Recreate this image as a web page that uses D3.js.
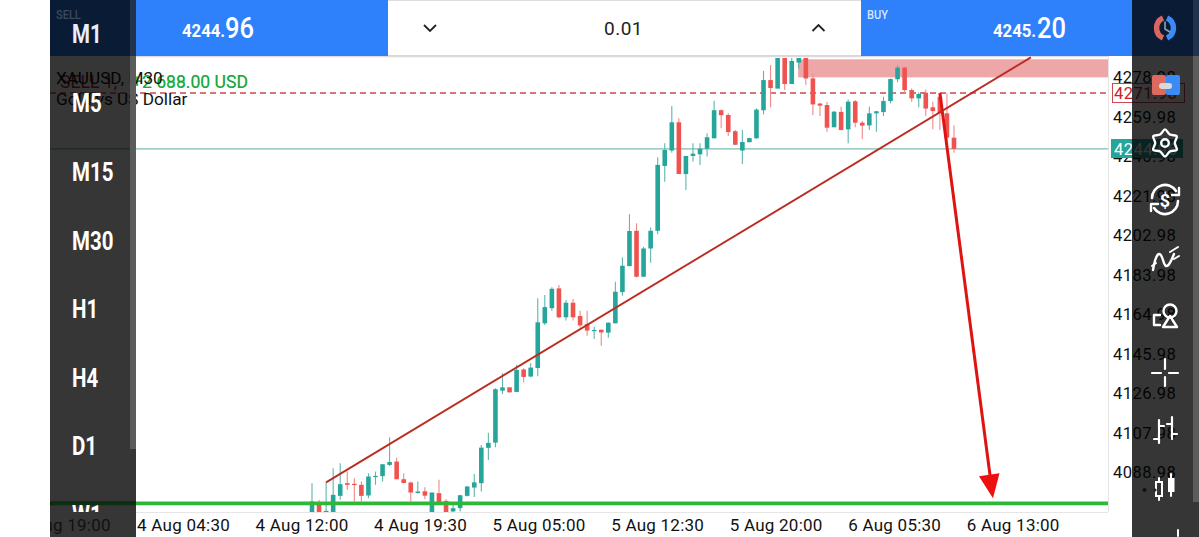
<!DOCTYPE html>
<html><head><meta charset="utf-8">
<script src="https://cdn.jsdelivr.net/npm/d3@7"></script>
<style>html,body{margin:0;padding:0;background:#fff;overflow:hidden}svg{display:block}text{font-family:Roboto,sans-serif}</style>
</head><body><svg id="c" width="1199" height="537"></svg>
<script>
const opens=[4066,4074.3,4070,4064,4077.5,4083.6,4083.3,4082.8,4077.7,4086.6,4087,4092.4,4094,4085.5,4083.9,4078.9,4079.7,4066,4078.8,4075.1,4070,4071.6,4077.5,4081.5,4083.6,4100.6,4103.1,4128.1,4129.7,4127.5,4138.3,4134.9,4139,
4160.5,4167.8,4177.3,4163.4,4170.4,4164,4160.1,4157,4157.4,4156,4160.5,4175.5,4188,4205,4182.9,4196.5,4205,
4236.2,4243.6,4257.2,4232.3,4241,4241.8,4244.5,4249.5,4263,4260.7,4252.9,4243.6,4247.6,4249.5,4263,4277.5,4273.4,4290,4275.6,4285.9,4288.8,4278.3,4266.2,4265.5,4254.8,4262.2,4253.8,4267.3,4257,4255.7,4261.5,4262.1,4267.4,4277.9,4283.5,4272.7,4268.7,4271.4,4264.4,4269.5,4261.5,4249.8];
const highs=[4083.6,4075.6,4083.9,4090.8,4093.2,4089.2,4086,4084.4,4088.4,4089.2,4092.9,4105.7,4095.9,4088.4,4084.4,4084.4,4081.7,4079.1,4085.2,4075.9,4073.2,4078,4082.3,4088,4102,4107.9,4129.3,4136.5,4129.7,4140.5,4138.9,4141.3,4172.5,
4174.1,4177.8,4178.9,4171.7,4172.2,4166.6,4166.6,4158.9,4157.6,4160.9,4180.5,4192.2,4213,4208.6,4197.3,4206.6,4240.4,
4247.1,4265,4259.1,4241,4247.1,4247.1,4251.9,4267.6,4263.4,4261.5,4253.5,4253.5,4249.8,4263.9,4281.9,4284.8,4292,4292,4292,4292,4292,4280.7,4266.6,4267.1,4262.6,4264.7,4268.2,4267.9,4257.8,4264.7,4262.6,4269.5,4278.3,4284.8,4284,4273.5,4271.5,4273,4267.1,4271.1,4271.1,4255.6];
const lows=[4060,4060,4069.9,4062,4075.6,4080.4,4074.8,4074.8,4076.4,4082.8,4084.4,4091.9,4085.5,4083.6,4074.8,4078.5,4075.9,4064,4074,4064,4069,4070,4077.2,4076.9,4079.6,4094.8,4100.9,4126.5,4127.2,4127.5,4132,4134.6,4135,
4159.7,4166.6,4162.9,4161.8,4161.8,4158.5,4154.5,4152.9,4149.7,4153.6,4160.5,4173.8,4188,4182.6,4182.9,4189.6,4203.3,
4228.6,4242.6,4232.3,4224.6,4238.3,4236.7,4240.7,4249.5,4254.3,4250.6,4246.2,4237.1,4247.6,4249.2,4261,4264.4,4273.4,4272.7,4275.6,4283,4275.1,4260.7,4260.2,4252.7,4254.8,4253.2,4247.1,4254.8,4249,4253.5,4252.7,4260.2,4266.3,4276.4,4271.1,4267.1,4264.4,4260.2,4253.8,4253.5,4245.5,4242.6];
const closes=[4074.8,4062,4070.3,4078,4083.1,4082.8,4083,4077.5,4086.8,4087.1,4092.7,4093.8,4085.5,4083.7,4079.1,4079.6,4077.6,4079.1,4074.3,4066,4071.6,4077.8,4082,4084,4100.7,4103,4128.8,4129.7,4127.3,4138.1,4134.7,4139.2,4161,
4168.3,4177.1,4163.4,4170.4,4163.4,4159.5,4157,4157.3,4156.1,4160.8,4175.7,4188.2,4204.9,4182.9,4196.5,4205,4236.7,
4243.9,4257.2,4232.3,4241,4242.1,4244.5,4250,4263,4260.6,4252.5,4246.4,4247.7,4249.6,4263.3,4277.5,4273.7,4290,4275.6,4286.7,4288.8,4278.3,4265.8,4265.2,4254.6,4262.3,4253.5,4267.1,4257,4255.6,4261.5,4262.5,4267.4,4278,4283.5,4272.7,4268.7,4270.8,4263.8,4262.6,4261.5,4249.8,4244.4];

const priceTicks=[4278.98,4259.98,4240.98,4221.98,4202.98,4183.98,4164.98,4145.98,4126.98,4107.98,4088.98];
const timeLabels=["4 Aug 19:00","4 Aug 04:30","4 Aug 12:00","4 Aug 19:30","5 Aug 05:00","5 Aug 12:30","5 Aug 20:00","6 Aug 05:30","6 Aug 13:00"];
const timeBars=[-41.7,-24.8,-8,8.8,25.6,42.4,59.2,76,92.8];
const timeframes=["M1","M5","M15","M30","H1","H4","D1","W1"];
const bidLevel=4244.4, entryLevel=4271.3, targetLevel=4073.9;
const zoneTop=4287.5, zoneBottom=4278.8, zoneStartBar=68.9;
const trendBars=[2,101.9], trendPrices=[4084,4288.4];
const arrowBars=[89,96.2], arrowPrices=[4271.3,4085];

const svg=d3.select("#c");
const y=d3.scaleLinear().domain([4278.98,4088.98]).range([77,472]);
const x=d3.scaleLinear().domain([0,91]).range([312,954]);
const defs=svg.append("defs");
defs.append("clipPath").attr("id","plot").append("rect").attr("x",50).attr("y",58).attr("width",1058).attr("height",454);
defs.append("clipPath").attr("id","page").append("rect").attr("x",50).attr("y",0).attr("width",1149).attr("height",537);

const teal="#26a69a", red="#ef5350";
svg.append("line").attr("x1",136).attr("x2",1108).attr("y1",56.5).attr("y2",56.5).attr("stroke","#dcdcdc").attr("stroke-width",1.5);
svg.append("line").attr("x1",1108.5).attr("x2",1108.5).attr("y1",56).attr("y2",512).attr("stroke","#e6e6e6");
svg.append("line").attr("x1",50).attr("x2",1108).attr("y1",512.5).attr("y2",512.5).attr("stroke","#e6e6e6");

const plot=svg.append("g").attr("clip-path","url(#plot)");
plot.append("rect").attr("x",x(zoneStartBar)).attr("width",1108-x(zoneStartBar)).attr("y",y(zoneTop)).attr("height",y(zoneBottom)-y(zoneTop)).attr("fill","#eea7a9");
plot.append("line").attr("x1",50).attr("x2",1108).attr("y1",y(bidLevel)).attr("y2",y(bidLevel)).attr("stroke","#7dbcb2").attr("stroke-width",1.2);
plot.append("line").attr("x1",50).attr("x2",1108).attr("y1",y(entryLevel)).attr("y2",y(entryLevel)).attr("stroke","#d04550").attr("stroke-width",1.4).attr("stroke-dasharray","6 4");

const bars=plot.append("g").selectAll("g").data(opens).join("g");
bars.append("line").attr("x1",(d,i)=>x(i)).attr("x2",(d,i)=>x(i)).attr("y1",(d,i)=>y(highs[i])).attr("y2",(d,i)=>y(lows[i]))
  .attr("stroke",(d,i)=>closes[i]>=d?"#5fb5ad":"#ee8a88").attr("stroke-width",1.1);
bars.append("rect").attr("x",(d,i)=>x(i)-2.3).attr("width",4.6)
  .attr("y",(d,i)=>y(Math.max(d,closes[i]))).attr("height",(d,i)=>Math.max(1.2,Math.abs(y(d)-y(closes[i]))))
  .attr("fill",(d,i)=>closes[i]>=d?teal:red);

const line=d3.line().x(d=>x(d[0])).y(d=>y(d[1]));
svg.append("path").attr("d",line(d3.zip(trendBars,trendPrices))).attr("fill","none").attr("stroke","#bb2c22").attr("stroke-width",1.9);
plot.append("path").attr("d",line(d3.zip(arrowBars,arrowPrices))).attr("fill","none").attr("stroke","#e01313").attr("stroke-width",3);
const tipX=x(arrowBars[1])+1.3,tipY=y(arrowPrices[1])+18;
plot.append("path").attr("d",`M${tipX-13},${tipY-22} L${tipX+7.5},${tipY-25} L${tipX+1},${tipY} Z`).attr("fill","#ee0f0f");
plot.append("line").attr("x1",50).attr("x2",1108).attr("y1",y(targetLevel)).attr("y2",y(targetLevel)).attr("stroke","#2fb838").attr("stroke-width",3.6);

const t=(sel,s,px,py,size,fill)=>sel.append("text").attr("x",px).attr("y",py).attr("font-size",size).attr("fill",fill).text(s);
t(svg,"SELL 1,",60,88,17.6,"#a82c3c");
t(svg,"+2 688.00 USD",248,88,17.6,"#18a83c").attr("text-anchor","end");
t(svg,"+2 699.00 USD",248,88,17.6,"#18a83c").attr("text-anchor","end").attr("opacity",.55);
t(svg,"XAUUSD, M30",56,84,17.2,"#111");
t(svg,"Gold vs US Dollar",56,105,17.2,"#111");

const axisG=svg.append("g");
priceTicks.forEach(p=>t(axisG,p.toFixed(2),1113,y(p)+6,16.6,"#111").attr("letter-spacing",0.4));
axisG.append("rect").attr("x",1112.5).attr("y",83.5).attr("width",72).attr("height",19).attr("fill","#fff").attr("stroke","#c64a50");
t(axisG,"4271.98",1114,99,16.6,"#c8202c").attr("letter-spacing",0.4);
axisG.append("rect").attr("x",1111).attr("y",139).attr("width",72).attr("height",19).attr("fill","#26a69a");
t(axisG,"4244.96",1114,155,16.6,"#fff").attr("letter-spacing",0.4);

const timeG=svg.append("g").attr("clip-path","url(#page)");
timeLabels.slice(1).forEach((s,i)=>t(timeG,s,x(timeBars[i+1]),531,17,"#111").attr("letter-spacing",0.25));

svg.append("rect").attr("x",136).attr("y",0).attr("width",252).attr("height",56).attr("fill","#2f80fb");
svg.append("rect").attr("x",861).attr("y",0).attr("width",271).attr("height",56).attr("fill","#2f80fb");
svg.append("rect").attr("x",388).attr("y",0).attr("width",473).attr("height",1).attr("fill","#ddd");
svg.append("rect").attr("x",388).attr("y",55).attr("width",473).attr("height",1.5).attr("fill","#d8d8d8");
const cond=(s,px,py,size,fill,sx,w)=>svg.append("text").attr("transform",`translate(${px},${py}) scale(${sx},1)`).attr("font-size",size).attr("fill",fill).attr("font-weight",w||400).text(s);
cond("4244.",182,37,19,"#fff",.88,700);
cond("96",225,38,29,"#fff",.88,500);
cond("4245.",993,37,19,"#fff",.88,700);
cond("20",1037,38,29,"#fff",.88,500);
cond("BUY",867,19,13,"#d5e6ff",.85,500);
svg.append("text").attr("x",623.5).attr("y",35).attr("text-anchor","middle").attr("font-size",19).attr("fill","#222").attr("letter-spacing",.5).text("0.01");
svg.append("path").attr("d","M424,25 L430,31 L436,25").attr("fill","none").attr("stroke","#222").attr("stroke-width",1.8);
svg.append("path").attr("d","M812.5,31 L818.5,25 L824.5,31").attr("fill","none").attr("stroke","#222").attr("stroke-width",1.8);

svg.append("rect").attr("x",50).attr("y",56).attr("width",86).attr("height",481).attr("fill","#000").attr("opacity",.79);
svg.append("rect").attr("x",50).attr("y",0).attr("width",86).attr("height",56).attr("fill","#0a1b36");
svg.append("rect").attr("x",130).attr("y",0).attr("width",6).attr("height",56).attr("fill","#22324f");
svg.append("rect").attr("x",130).attr("y",56).attr("width",6).attr("height",393).attr("fill","#5c5c5c");
cond("SELL",56,19,13,"#3a4a60",.85,500);
const tfY=[43,112,181,250,318,387,455,524];
timeframes.forEach((s,i)=>svg.append("text").attr("transform",`translate(72,${tfY[i]}) scale(.82,1)`).attr("font-size",25).attr("font-weight",700).attr("fill",i==0?"#e6efff":"#fff").text(s));
svg.append("rect").attr("x",50).attr("y",512).attr("width",86).attr("height",25).attr("fill","#363636");
svg.append("rect").attr("x",52).attr("y",501).attr("width",84).attr("height",4).attr("fill","#0d3012");
svg.append("g").attr("clip-path","url(#page)").call(g=>t(g,timeLabels[0],x(timeBars[0]),531,17,"#111").attr("letter-spacing",0.25));

svg.append("rect").attr("x",1132).attr("y",56).attr("width",67).attr("height",481).attr("fill","#000").attr("opacity",.79);
svg.append("rect").attr("x",1132).attr("y",0).attr("width",67).attr("height",56).attr("fill","#0a1b36");
svg.append("rect").attr("x",1193).attr("y",0).attr("width",6).attr("height",56).attr("fill","#22324f");
svg.append("rect").attr("x",1193).attr("y",56).attr("width",6).attr("height",446).attr("fill","#5c5c5c");
const ic=svg.append("g").attr("fill","none").attr("stroke","#fff").attr("stroke-width",2.4).attr("stroke-linecap","round").attr("stroke-linejoin","round");
ic.append("path").attr("d","M1163,18 A11,11 0 0 0 1163,38").attr("stroke","#d9665f").attr("stroke-width",5.5).attr("stroke-linecap","butt");
ic.append("path").attr("d","M1167,18 A11,11 0 0 1 1167,38").attr("stroke","#3a8bf5").attr("stroke-width",5.5).attr("stroke-linecap","butt");
ic.append("path").attr("d","M1165,22 V29 L1170,32").attr("stroke","#8fa0b8").attr("stroke-width",1.6);
svg.append("rect").attr("x",1152).attr("y",75).attr("width",14).attr("height",20).attr("rx",2).attr("fill","#dc6a5e");
svg.append("rect").attr("x",1166).attr("y",75).attr("width",14).attr("height",20).attr("rx",2).attr("fill","#3a8bf5");
svg.append("rect").attr("x",1159).attr("y",83).attr("width",13).attr("height",6).attr("rx",3).attr("fill","#d9d9d9");
// six-lobed gear
const gear=d3.range(0,12).map(i=>{const a=i/12*2*Math.PI-Math.PI/2;const r=i%2?9.8:13.6;return [1165+r*Math.cos(a),143+r*Math.sin(a)];});
ic.append("path").attr("d",d3.line().curve(d3.curveCatmullRomClosed.alpha(.5))(gear));
ic.append("circle").attr("cx",1165).attr("cy",143).attr("r",3.8);
ic.append("path").attr("d","M1152,198 A13,13 0 0 1 1176,191 M1178,201 A13,13 0 0 1 1154,208").attr("stroke-width",2.6);
ic.append("path").attr("d","M1179,188 V195 H1172 M1151,211 V204 H1158").attr("stroke-width",2.4);
svg.append("text").attr("x",1165).attr("y",207).attr("text-anchor","middle").attr("font-size",18).attr("font-weight",700).attr("fill","#fff").text("$");
ic.append("path").attr("d","M1153,270 C1156,252 1160,250 1163,260 C1166,272 1170,264 1174,254");
ic.append("path").attr("d","M1156,263 L1152,266 M1170,252 L1178,247 M1174,259 L1179,256").attr("stroke-width",2);
ic.append("circle").attr("cx",1170).attr("cy",311).attr("r",6.5);
ic.append("path").attr("d","M1170,316 L1177,327 H1163 Z");
ic.append("path").attr("d","M1160,315 H1154 V325 H1160");
ic.append("path").attr("d","M1165,359 V369 M1165,377 V386 M1152,373 H1161 M1169,373 H1178").attr("stroke-width",2.2);
ic.append("path").attr("d","M1159,420 V443 M1154,439 H1159 M1159,426 H1164 M1172,417 V439 M1167,424 H1172 M1172,434 H1177").attr("stroke-width",2.2);
ic.append("path").attr("d","M1159,478 V500 M1171,474 V496").attr("stroke-width",2);
svg.append("rect").attr("x",1156).attr("y",482).attr("width",6).attr("height",14).attr("fill","#333").attr("stroke","#fff").attr("stroke-width",2);
svg.append("rect").attr("x",1168).attr("y",478).attr("width",6.5).attr("height",14).attr("fill","#fff");
svg.append("circle").attr("cx",1144.5).attr("cy",490).attr("r",2).attr("fill","#111");
svg.append("circle").attr("cx",1155).attr("cy",490).attr("r",1.6).attr("fill","#222");
ic.append("path").attr("d","M1178,536 V530").attr("stroke-width",2);
</script></body></html>
